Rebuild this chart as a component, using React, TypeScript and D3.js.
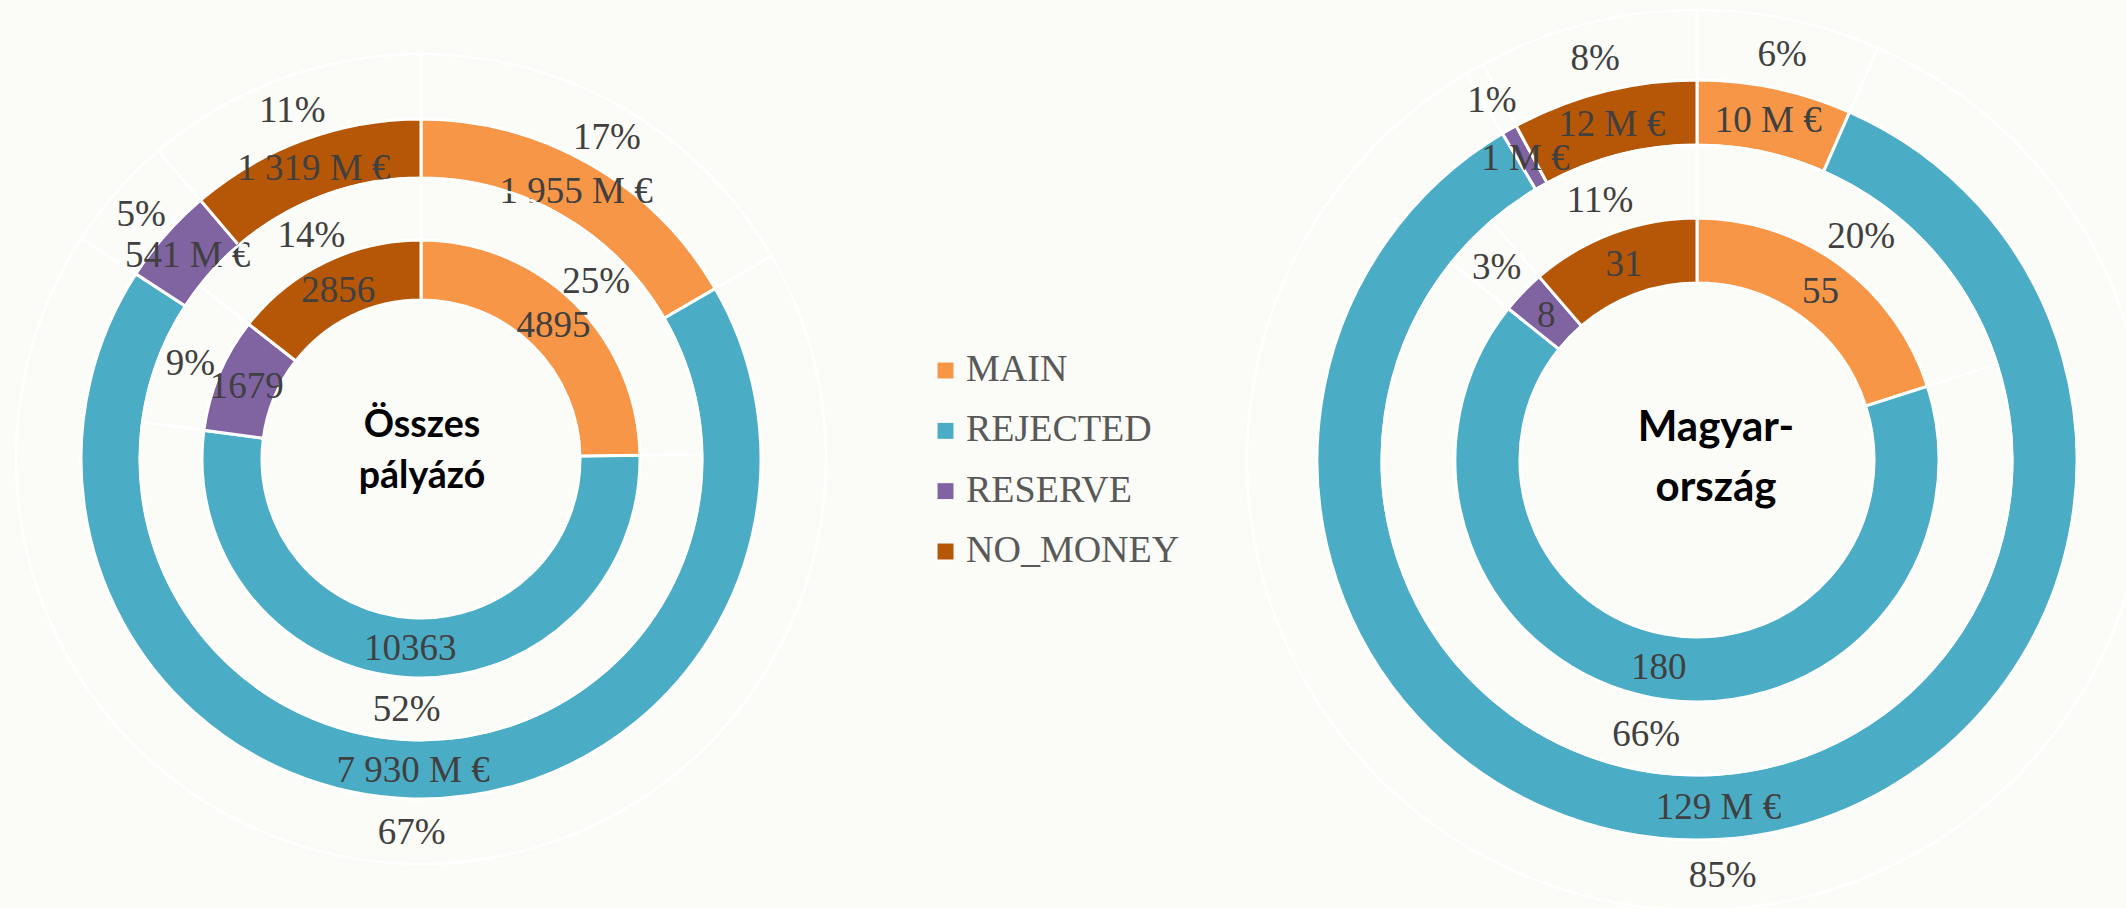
import React from "react";
import * as d3 from "d3";

const categories = ["MAIN", "REJECTED", "RESERVE", "NO_MONEY"];
const colors = ["#F79646", "#4BACC6", "#8064A2", "#B65708"];

// Left chart: "Összes pályázó"
const leftCounts = [4895, 10363, 1679, 2856];
const leftCountPct = ["25%", "52%", "9%", "14%"];
const leftMoney = [1955, 7930, 541, 1319];
const leftMoneyPct = ["17%", "67%", "5%", "11%"];

// Right chart: "Magyarország"
const rightCounts = [55, 180, 8, 31];
const rightCountPct = ["20%", "66%", "3%", "11%"];
const rightMoney = [10, 129, 1, 12];
const rightMoneyPct = ["6%", "85%", "1%", "8%"];

const huLocale = d3.formatLocale({
  decimal: ",",
  thousands: "\u00a0",
  grouping: [3],
  currency: ["", " €"],
});
const fmtMoney = (v: number) => huLocale.format(",d")(v) + " M €";
const fmtCount = (v: number) => d3.format("d")(v);

const BG = "#fbfbf7";
const LABEL_FONT = "'Liberation Serif', 'DejaVu Serif', serif";
const TITLE_FONT = "Lato, 'Open Sans', sans-serif";

type RingProps = {
  values: number[];
  labels: string[];
  pctLabels: string[];
  r0: number;
  r1: number;
  r2: number;
};

function Ring({ values, labels, pctLabels, r0, r1, r2 }: RingProps) {
  const pie = d3
    .pie<number>()
    .sort(null)
    .value((d) => d)
    .startAngle(0)
    .endAngle(2 * Math.PI);
  const arcs = pie(values);
  const arcFill = d3.arc<d3.PieArcDatum<number>>().innerRadius(r0).outerRadius(r1);
  const arcGhost = d3.arc<d3.PieArcDatum<number>>().innerRadius(r1).outerRadius(r2);
  const fontSize = 37;
  return (
    <g>
      {arcs.map((a, i) => (
        <path key={"g" + i} d={arcGhost(a) || ""} fill="none" stroke="#ffffff" strokeWidth={2.5} />
      ))}
      {arcs.map((a, i) => (
        <path key={"f" + i} d={arcFill(a) || ""} fill={colors[i]} stroke="#ffffff" strokeWidth={3} />
      ))}
      {arcs.map((a, i) => {
        const [x, y] = arcFill.centroid(a);
        return (
          <text
            key={"l" + i}
            x={x}
            y={y}
            dy="0.34em"
            textAnchor="middle"
            fontFamily={LABEL_FONT}
            fontSize={fontSize}
            fill="#404040"
          >
            {labels[i]}
          </text>
        );
      })}
      {arcs.map((a, i) => {
        const [x, y] = arcGhost.centroid(a);
        return (
          <text
            key={"p" + i}
            x={x}
            y={y}
            dy="0.34em"
            textAnchor="middle"
            fontFamily={LABEL_FONT}
            fontSize={fontSize}
            fill="#404040"
          >
            {pctLabels[i]}
          </text>
        );
      })}
    </g>
  );
}

type DonutProps = {
  cx: number;
  cy: number;
  radii: number[];
  counts: number[];
  countPct: string[];
  money: number[];
  moneyPct: string[];
  title: string[];
  titleX: number;
  titleY: number[];
  titleSize: number;
};

function Donut(p: DonutProps) {
  const [a, b, c, d, e] = p.radii;
  return (
    <g>
      <g transform={`translate(${p.cx},${p.cy})`}>
        <Ring values={p.money} labels={p.money.map(fmtMoney)} pctLabels={p.moneyPct} r0={c} r1={d} r2={e} />
        <Ring values={p.counts} labels={p.counts.map(fmtCount)} pctLabels={p.countPct} r0={a} r1={b} r2={c} />
      </g>
      {p.title.map((t, i) => (
        <text
          key={i}
          x={p.titleX}
          y={p.titleY[i]}
          textAnchor="middle"
          fontFamily={TITLE_FONT}
          fontWeight={700}
          fontSize={p.titleSize}
          fill="#000000"
        >
          {t}
        </text>
      ))}
    </g>
  );
}

function Legend({ x, y }: { x: number; y: number }) {
  const rowY = d3.scalePoint<string>().domain(categories).range([0, 181]);
  return (
    <g transform={`translate(${x},${y})`}>
      {categories.map((c, i) => (
        <g key={c} transform={`translate(0,${rowY(c)})`}>
          <rect x={0} y={-19} width={17} height={17} fill={colors[i]} stroke="#ffffff" strokeWidth={1} />
          <text x={29} y={0} fontFamily={LABEL_FONT} fontSize={38} fill="#595959">
            {c}
          </text>
        </g>
      ))}
    </g>
  );
}

export default function App() {
  return (
    <svg
      width={2126}
      height={908}
      style={{ position: "absolute", left: 0, top: 0, display: "block" }}
    >
      <rect x={0} y={0} width={2126} height={908} fill={BG} />
      <Donut
        cx={421}
        cy={459}
        radii={[159, 219, 281, 340, 405]}
        counts={leftCounts}
        countPct={leftCountPct}
        money={leftMoney}
        moneyPct={leftMoneyPct}
        title={["Összes", "pályázó"]}
        titleX={422}
        titleY={[437, 488]}
        titleSize={37.5}
      />
      <Donut
        cx={1697}
        cy={460}
        radii={[177, 242, 315, 380, 450]}
        counts={rightCounts}
        countPct={rightCountPct}
        money={rightMoney}
        moneyPct={rightMoneyPct}
        title={["Magyar-", "ország"]}
        titleX={1716}
        titleY={[441, 501]}
        titleSize={42}
      />
      <Legend x={937} y={381} />
    </svg>
  );
}
